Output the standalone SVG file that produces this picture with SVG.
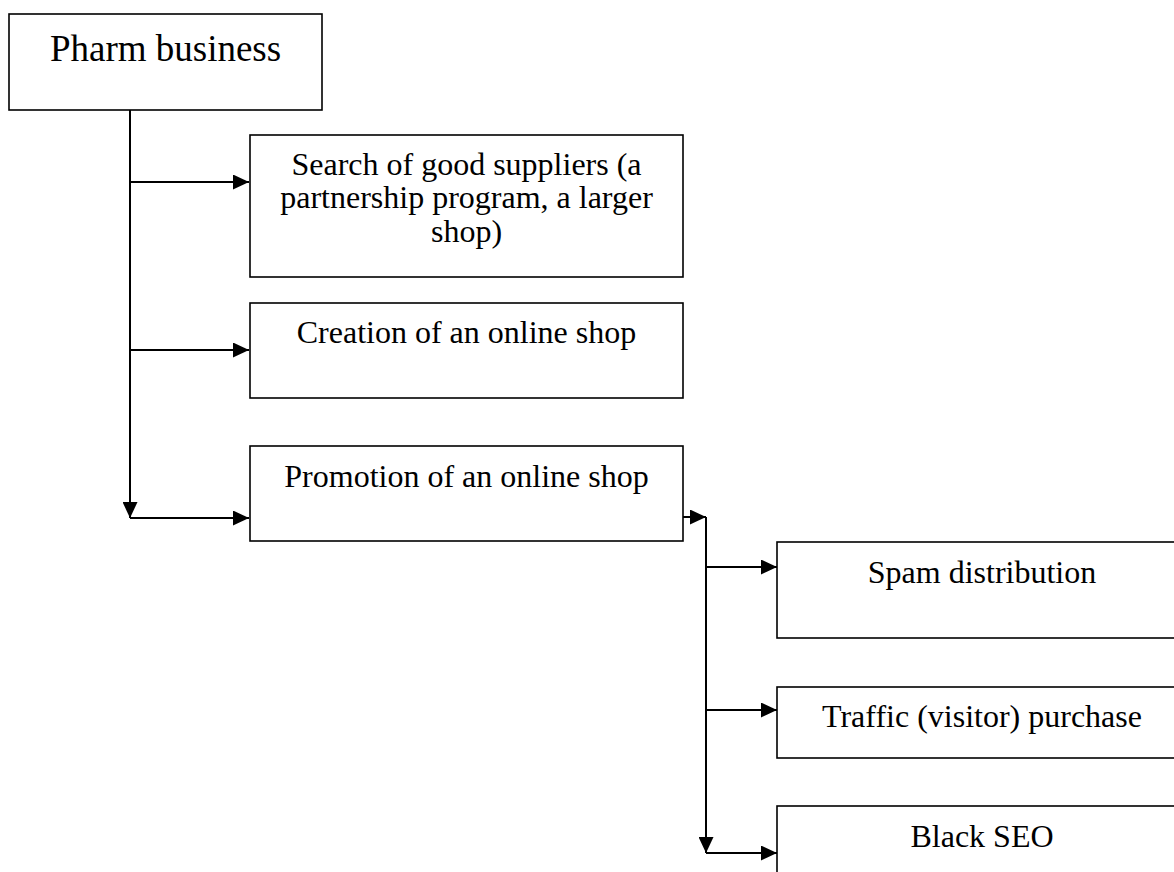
<svg xmlns="http://www.w3.org/2000/svg" width="1174" height="872" viewBox="0 0 1174 872">
<style>
.box{fill:#fff;stroke:#000;stroke-width:1.6}
.t{font-family:"Liberation Serif","Times New Roman",serif;font-size:32px;fill:#000;text-anchor:middle}
.c{fill:none;stroke:#000;stroke-width:2}
</style>
<defs>
<marker id="ah" markerUnits="userSpaceOnUse" markerWidth="16" markerHeight="15" refX="16" refY="7.5" orient="auto">
<path d="M0,0 L16,7.5 L0,15 z" fill="#000"/>
</marker>
</defs>
<rect width="1174" height="872" fill="#fff"/>
<g id="connectors">
<path class="c" d="M130,110 V518" marker-end="url(#ah)"/>
<path class="c" d="M130,182 H249" marker-end="url(#ah)"/>
<path class="c" d="M130,350 H249" marker-end="url(#ah)"/>
<path class="c" d="M130,518 H249" marker-end="url(#ah)"/>
<path class="c" d="M683,517 H706" marker-end="url(#ah)"/>
<path class="c" d="M706,517 V853" marker-end="url(#ah)"/>
<path class="c" d="M706,567 H777" marker-end="url(#ah)"/>
<path class="c" d="M706,710 H777" marker-end="url(#ah)"/>
<path class="c" d="M706,853 H777" marker-end="url(#ah)"/>
</g>
<g id="pharm">
<rect class="box" x="9" y="14" width="313" height="96"/>
<text class="t" x="165.5" y="61" style="font-size:37px">Pharm business</text>
</g>
<g id="search">
<rect class="box" x="250" y="135" width="433" height="142"/>
<text class="t" x="466.5" y="174.5">Search of good suppliers (a</text>
<text class="t" x="466.5" y="208">partnership program, a larger</text>
<text class="t" x="466.5" y="241.5">shop)</text>
</g>
<g id="creation">
<rect class="box" x="250" y="303" width="433" height="95"/>
<text class="t" x="466.5" y="342.5">Creation of an online shop</text>
</g>
<g id="promotion">
<rect class="box" x="250" y="446" width="433" height="95"/>
<text class="t" x="466.5" y="486.5">Promotion of an online shop</text>
</g>
<g id="spam">
<rect class="box" x="777" y="542" width="410" height="96"/>
<text class="t" x="982" y="583">Spam distribution</text>
</g>
<g id="traffic">
<rect class="box" x="777" y="687" width="410" height="71"/>
<text class="t" x="982" y="726.5">Traffic (visitor) purchase</text>
</g>
<g id="blackseo">
<rect class="box" x="777" y="806" width="410" height="90"/>
<text class="t" x="982" y="846.5">Black SEO</text>
</g>
</svg>
